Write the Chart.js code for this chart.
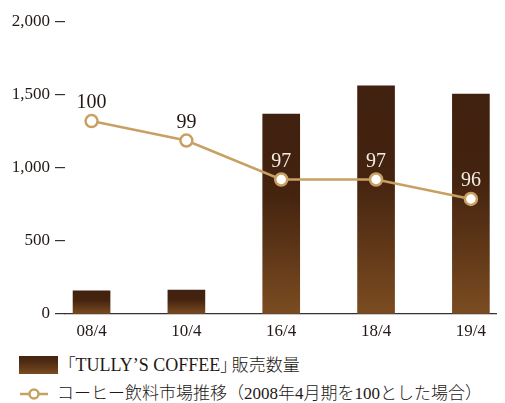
<!DOCTYPE html>
<html>
<head>
<meta charset="utf-8">
<script src="https://cdn.jsdelivr.net/npm/chart.js@4/dist/chart.umd.min.js"></script>
<style>
  html, body { margin: 0; padding: 0; background: #fff; overflow: hidden; }
  #wrap { position: relative; width: 505px; height: 403px; }
  #chart { position: absolute; left: 0; top: 0; }
  .legend-row { position: absolute; left: 0; height: 20px; line-height: 20px; display: flex; align-items: center;
    font-family: "Liberation Serif", "Noto Sans CJK JP", serif; font-size: 17px; color: #231815; white-space: nowrap; }
  .swatch { display: inline-block; width: 39px; height: 18px;
    background: linear-gradient(to bottom, #44230f 0%, #4f2c13 35%, #7b4c21 100%); }
  .jp { font-family: "Liberation Serif", "Noto Sans CJK JP", sans-serif; font-weight: 300; }
  .br { font-family: "Noto Sans CJK JP", sans-serif; font-weight: 300; font-feature-settings: "palt"; font-size: 17px; }
</style>
</head>
<body>
<div id="wrap">
  <canvas id="chart" width="505" height="340"></canvas>
  <div class="legend-row" style="top:355px; left:19px;">
    <span class="swatch"></span><span style="margin-left:9px; font-size:18px;"><span class="br">「</span>TULLY’S COFFEE<span class="br">」</span><span class="jp" style="font-size:17px; margin-left:3px;">販売数量</span></span>
  </div>
  <div class="legend-row" style="top:384px; left:19px;">
    <canvas id="lineKey" width="30" height="20"></canvas><span class="jp" style="margin-left:8px;">コーヒー飲料市場推移（2008年4月期を100とした場合）</span>
  </div>
</div>
<script>
// periods on the x axis
const periods = ["08/4", "10/4", "16/4", "18/4", "19/4"];
// TULLY'S COFFEE sales volume (bars, left axis)
const salesVolume = [158, 164, 1370, 1562, 1507];
// coffee beverage market index, 2008/4 = 100 (line, hidden right axis)
const marketIndex = [100, 99, 97, 97, 96];
const yTicks = [0, 500, 1000, 1500, 2000];

const LINE_COLOR = "#c9a064";
const TEXT_COLOR = "#231815";
const AXIS_COLOR = "#333333";
const SERIF = "'Liberation Serif', serif";

function barGradient(context) {
    const chart = context.chart;
    if (!chart.chartArea || !context.raw) return "#4a2812";
    const y = chart.scales.y;
    const top = y.getPixelForValue(context.raw.y);
    const bottom = y.getPixelForValue(0);
    const g = chart.ctx.createLinearGradient(0, top, 0, bottom);
    g.addColorStop(0, "#40200f");
    g.addColorStop(0.4, "#44230f");
    g.addColorStop(1, "#7b4c21");
    return g;
}

// index labels above the line points, white when sitting on a bar
const pointLabels = {
    id: "pointLabels",
    afterDatasetsDraw(chart) {
        const meta = chart.getDatasetMeta(1);
        const bars = chart.getDatasetMeta(0);
        const ctx = chart.ctx;
        ctx.save();
        ctx.font = "20px " + SERIF;
        ctx.textAlign = "center";
        ctx.textBaseline = "middle";
        meta.data.forEach((pt, i) => {
            const ly = pt.y - 18;
            const onBar = bars.data[i].y < ly - 12;
            ctx.fillStyle = onBar ? "#f2ede6" : TEXT_COLOR;
            ctx.fillText(String(marketIndex[i]), pt.x, ly);
        });
        ctx.restore();
    },
};

new Chart(document.getElementById("chart"), {
    type: "bar",
    data: {
        datasets: [
            {
                type: "bar",
                label: "「TULLY’S COFFEE」販売数量",
                data: salesVolume.map((v, i) => ({ x: i, y: v })),
                backgroundColor: barGradient,
                barThickness: 37,
                yAxisID: "y",
                order: 2,
            },
            {
                type: "line",
                label: "コーヒー飲料市場推移（2008年4月期を100とした場合）",
                data: marketIndex.map((v, i) => ({ x: i, y: v })),
                borderColor: LINE_COLOR,
                borderWidth: 2.5,
                pointRadius: 6,
                pointBorderWidth: 2.5,
                pointBackgroundColor: "#ffffff",
                pointBorderColor: LINE_COLOR,
                tension: 0,
                yAxisID: "y1",
                order: 1,
            },
        ],
    },
    options: {
        responsive: false,
        animation: false,
        layout: { padding: { top: 22, right: 2, left: 0, bottom: 0 } },
        plugins: { legend: { display: false }, tooltip: { enabled: false } },
        scales: {
            x: {
                type: "linear",
                min: -0.28,
                max: 4.27,
                offset: false,
                grid: { display: false, drawTicks: false },
                border: { display: true, color: AXIS_COLOR, width: 1.2 },
                afterBuildTicks: (s) => { s.ticks = periods.map((_, i) => ({ value: i })); },
                afterFit: (s) => { s.height = 26; },
                ticks: {
                    padding: 7,
                    color: TEXT_COLOR,
                    font: { family: SERIF, size: 17 },
                    callback: (v) => periods[v] ?? "",
                },
            },
            y: {
                min: 0,
                max: 2000,
                afterBuildTicks: (s) => { s.ticks = yTicks.map((v) => ({ value: v })); },
                afterFit: (s) => { s.width = 65; },
                grid: { drawOnChartArea: false, drawTicks: true, tickLength: 10, color: AXIS_COLOR, lineWidth: 1.2 },
                border: { display: false },
                ticks: {
                    padding: 5,
                    color: TEXT_COLOR,
                    font: { family: SERIF, size: 17 },
                    callback: (v) => v.toLocaleString("en-US"),
                },
            },
            y1: {
                display: false,
                min: 90.1,
                max: 105.08,
            },
        },
    },
    plugins: [pointLabels],
});

// legend key for the line series
const k = document.getElementById("lineKey").getContext("2d");
k.strokeStyle = LINE_COLOR;
k.lineWidth = 2.5;
k.beginPath(); k.moveTo(1, 10); k.lineTo(29, 10); k.stroke();
k.beginPath(); k.arc(15, 10, 4.5, 0, Math.PI * 2);
k.fillStyle = "#fff"; k.fill(); k.stroke();
</script>
</body>
</html>
